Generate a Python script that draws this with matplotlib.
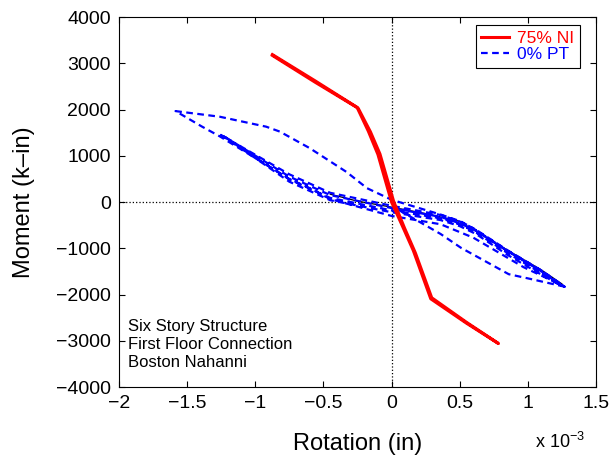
import matplotlib
matplotlib.use('Agg')
import matplotlib.pyplot as plt
from matplotlib.ticker import FuncFormatter

plt.rcParams['font.family'] = ['Liberation Sans', 'DejaVu Sans']
plt.rcParams['mathtext.fontset'] = 'custom'
plt.rcParams['mathtext.rm'] = 'Liberation Sans'

# rotation in units of 1e-3, moment in k-in
red_x = [-0.874, -0.56, -0.253, -0.17, -0.10, 0.0, 0.08, 0.16, 0.288, 0.55, 0.785,
         0.55, 0.295, 0.175, 0.095, 0.015, -0.085, -0.155, -0.245, -0.56, -0.874]
red_y = [3189, 2620, 2049, 1530, 1030, 0, -520, -1050, -2093, -2620, -3060,
         -2600, -2070, -1100, -560, 20, 1040, 1520, 2030, 2590, 3170]

blue_x = [0.00, 0.04, 0.36, 0.51, 0.86, 1.00, 1.27,
          1.10, 0.85, 0.61, 0.51, 0.36, 0.00, -0.18, -0.33, -0.60, -0.82, -0.92, -1.26, -1.585,
          -1.39, -1.26, -0.75, -0.60, -0.45, 0.00, 0.36, 0.60, 0.97, 1.27,
          1.10, 0.85, 0.61, 0.50, 0.36, 0.00, -0.45, -0.75, -1.27,
          -1.25, -0.75, -0.45, 0.00, 0.36, 0.50, 0.61, 0.85, 1.10, 1.25,
          1.10, 0.85, 0.62, 0.50, 0.36, 0.00, -0.45, -0.75, -1.24,
          -1.22, -0.75, -0.45, 0.00, 0.36, 0.50, 0.62, 0.85, 1.10, 1.24,
          1.05, 0.80, 0.58, 0.45, 0.30, 0.00]
blue_y = [0, -150, -690, -990, -1560, -1650, -1830,
          -1480, -1050, -590, -420, -270, 50, 300, 650, 1165, 1524, 1630, 1845, 1967,
          1630, 1420, 500, 300, 64, -300, -480, -770, -1410, -1830,
          -1480, -1040, -580, -420, -280, -80, 200, 600, 1480,
          1440, 490, 90, -180, -350, -480, -640, -1100, -1540, -1815,
          -1500, -1060, -620, -460, -320, -130, 150, 550, 1440,
          1400, 440, 40, -220, -390, -520, -690, -1140, -1570, -1800,
          -1430, -970, -580, -420, -295, -110]

black_x = [-0.45, -0.25, 0.0, 0.25, 0.49, 0.58, 0.85, 1.10, 1.25]
black_y = [170, 20, -110, -250, -410, -560, -1040, -1470, -1770]

notes = ['Six Story Structure', 'First Floor Connection', 'Boston Nahanni']


def fmt(v, pos):
    s = '%g' % v
    return s.replace('-', '\u2212')


fig = plt.figure(figsize=(6.15, 4.62), dpi=100)
ax = fig.add_axes([0.1935, 0.1623, 0.7755, 0.8007])

ax.axhline(0, color='black', ls=':', lw=0.9, zorder=1)
ax.axvline(0, color='black', ls=':', lw=0.9, zorder=1)

ax.plot(black_x, black_y, color='black', lw=0.9, zorder=2)
ax.plot(blue_x, blue_y, color='blue', lw=1.6, dashes=(3, 2), label='0% PT', zorder=3)
ax.plot(red_x, red_y, color='red', lw=2.2, label='75% NI', zorder=4)

ax.set_xlim(-2, 1.5)
ax.set_ylim(-4000, 4000)
ax.set_xticks([-2, -1.5, -1, -0.5, 0, 0.5, 1, 1.5])
ax.set_yticks(range(-4000, 4001, 1000))
ax.xaxis.set_major_formatter(FuncFormatter(fmt))
ax.yaxis.set_major_formatter(FuncFormatter(fmt))
ax.tick_params(direction='in', top=True, right=True, length=4, width=0.8,
               labelsize=14, pad=6)
for sp in ax.spines.values():
    sp.set_linewidth(0.8)

ax.set_xlabel('Rotation (in)', fontsize=17)
ax.set_ylabel('Moment (k\u2013in)', fontsize=17)
ax.xaxis.set_label_coords(0.5, -0.124)
ax.yaxis.set_label_coords(-0.176, 0.5)

handles, labels = ax.get_legend_handles_labels()
leg = ax.legend(handles[::-1], labels[::-1], loc='upper right',
                bbox_to_anchor=(0.966, 0.978), borderaxespad=0, fontsize=12.5,
                fancybox=False, edgecolor='black', framealpha=1,
                handlelength=1.6, handletextpad=0.5, borderpad=0.3,
                labelspacing=0.1, labelcolor='linecolor')
leg.get_frame().set_linewidth(0.8)

ax.text(0.019, 0.185, '\n'.join(notes), transform=ax.transAxes,
        fontsize=12, va='top', ha='left', linespacing=1.25)

ax.text(0.872, -0.148, r'x 10$^{\mathregular{-3}}$', transform=ax.transAxes,
        fontsize=13, va='center', ha='left')

fig.savefig('out.png', dpi=100)
